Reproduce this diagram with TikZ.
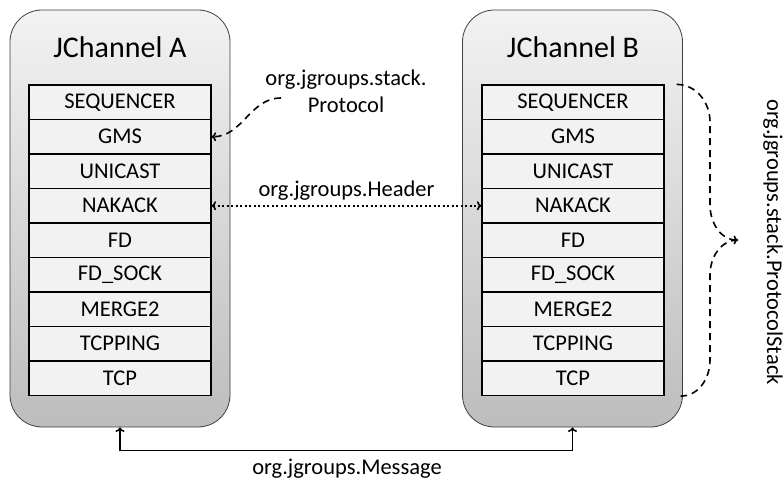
\documentclass[tikz,border=0pt]{standalone}
\usepackage{fontspec}
\setmainfont{Carlito}
\usetikzlibrary{arrows.meta}
\tikzset{
  >={To[length=4.5pt, width=9pt]},
  channel/.style={draw=black!75, line width=0.8pt, rounded corners=32pt,
    top color=black!5, bottom color=black!26,
    minimum width=220pt, minimum height=417pt},
  layer/.style={draw, line width=1.2pt, fill=black!5, inner sep=0pt,
    minimum width=182pt, minimum height=34.5pt,
    font=\fontsize{22.5}{26}\selectfont},
  title/.style={font=\fontsize{30}{34}\selectfont},
  lbl/.style={font=\fontsize{22.5}{27}\selectfont, align=center},
  link/.style={line width=1.6pt},
  dashlink/.style={line width=1.6pt, dash pattern=on 7pt off 5pt},
}
\begin{document}
\begin{tikzpicture}[x=1pt, y=1pt]
    \useasboundingbox (0,0) rectangle (783,482);

    \node[channel] (chA) at (120, 263.5) {};
    \node[channel] (chB) at (572.5, 263.5) {};
    \node[title] (titleA) at (120, 435) {JChannel A};
    \node[title] (titleB) at (573, 435) {JChannel B};

    \foreach \name [count=\i] in {SEQUENCER, GMS, UNICAST, NAKACK, FD,
                                  FD\_SOCK, MERGE2, TCPPING, TCP} {
      \node[layer] (a\i) at (120, 414.25 - 34.5*\i) {\name};
      \node[layer] (b\i) at (573, 414.25 - 34.5*\i) {\name};
    }

    \node[lbl] (proto) at (346, 391) {org.jgroups.stack.\\Protocol};
    \coordinate (protoend) at (281, 384);
    \draw[->, dashlink] (protoend) to[out=180, in=0] (a2.east);

    \draw[<->, link, dash pattern=on 2pt off 2.5pt] (a4.east) -- (b4.west)
        node[lbl, midway, above=1pt] (header) {org.jgroups.Header};

    \draw[<->, link] (chA.south) -- ++(0, -23) -| (chB.south);
    \node[lbl] (msg) at (347, 13) {org.jgroups.Message};

    \coordinate (stktop) at ([xshift=12pt]b1.north east);
    \coordinate (stkbot) at ([xshift=16pt]b9.south east);
    \coordinate (stktip) at (738, 242);
    \draw[->, dashlink] (stktop) to[out=0, in=90] (710, 360) -- (710, 277)
                        to[out=-90, in=180] (stktip);
    \draw[dashlink] (stktip) to[out=180, in=90] (710, 207) -- (710, 122)
                    to[out=-90, in=0] (stkbot);
    \node[lbl, rotate=-90] (stack) at (773, 240) {org.jgroups.stack.ProtocolStack};
  \end{tikzpicture}
\end{document}
